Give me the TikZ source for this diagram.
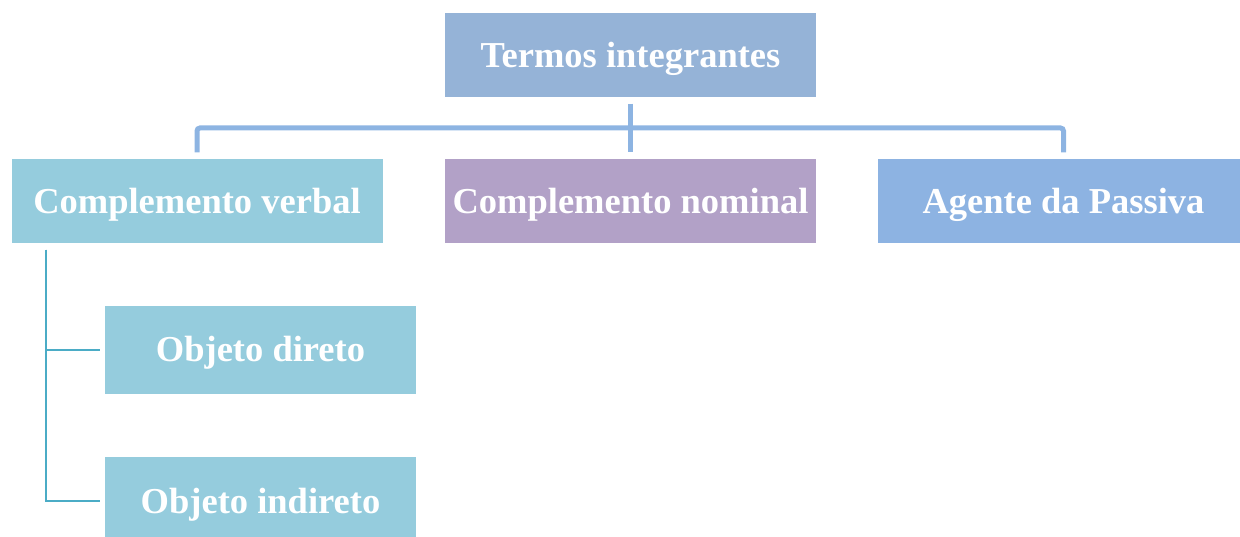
\documentclass[tikz,border=0pt]{standalone}
\usepackage{fontspec}
\setmainfont{Liberation Serif}
\usepackage{xcolor}
\definecolor{topColor}{RGB}{149, 179, 215}
\definecolor{busColor}{RGB}{141, 180, 226}
\definecolor{verbalColor}{RGB}{149, 204, 221}
\definecolor{nominalColor}{RGB}{178, 161, 199}
\definecolor{agenteColor}{RGB}{141, 179, 226}
\definecolor{treeColor}{RGB}{75, 172, 198}

\begin{document}
\begin{tikzpicture}[x=1pt, y=-1pt,
  termbox/.style={minimum width=371pt, minimum height=84pt, inner sep=0pt, text height=24pt, text depth=0pt, text=white, font=\fontsize{36.5}{40}\selectfont\bfseries},
  subbox/.style={termbox, minimum width=311pt, minimum height=88pt},
  bus/.style={line width=5pt, busColor, rounded corners=3pt},
  tree/.style={line width=2pt, treeColor}]
                \useasboundingbox (0,0) rectangle (1240,537);
                \node[termbox, fill=topColor] (termos) at (630.5,55.5) {Termos integrantes};
                \node[termbox, fill=verbalColor] (verbal) at (197,201.5) {Complemento verbal};
                \node[termbox, fill=nominalColor] (nominal) at (630.5,201.5) {Complemento nominal};
                \node[termbox, fill=agenteColor] (agente) at (1063.5,201.5) {Agente da Passiva};
                \node[subbox, fill=verbalColor] (direto) at (260.5,350) {Objeto direto};
                \node[subbox, fill=verbalColor] (indireto) at (260.5,501) {Objeto indireto};
                \coordinate (busmid) at (630.5,128);
                % bus from the top box
                \draw[bus, shorten <=6pt] (termos.south) -- (busmid);
                \draw[bus, shorten <=7pt, shorten >=7pt] (verbal.north) -- (verbal.north |- busmid) -- (agente.north |- busmid) -- (agente.north);
                \draw[bus, shorten >=7pt] (busmid) -- (nominal.north);
                % branches under Complemento verbal
                \coordinate (treetop) at ([xshift=35pt, yshift=-6pt]verbal.south west);
                \draw[tree, shorten >=5pt] (treetop) |- (direto.west);
                \draw[tree, shorten >=5pt] (treetop) |- (indireto.west);
            \end{tikzpicture}
\end{document}
